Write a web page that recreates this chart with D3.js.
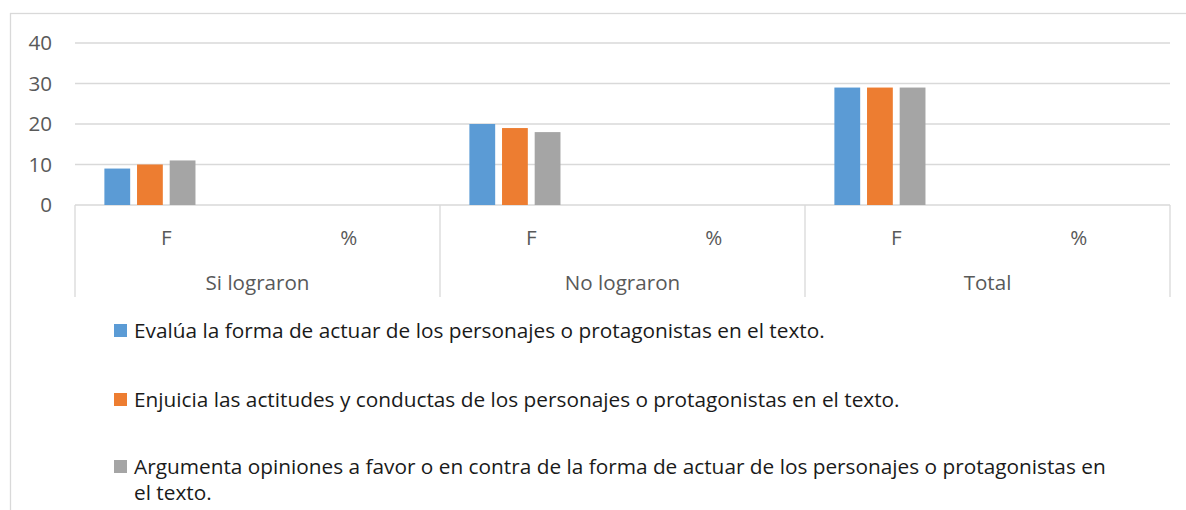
<!DOCTYPE html>
<html>
<head>
<meta charset="utf-8">
<script src="https://cdn.jsdelivr.net/npm/d3@7"></script>
<style>
  body { margin: 0; background: #fff; }
  svg text { font-family: "Open Sans", "Noto Sans", sans-serif; }
</style>
</head>
<body>
<svg id="chart" width="1186" height="510"></svg>
<script>
// Data
const groups = ['Si lograron', 'No lograron', 'Total'];
const subcats = ['F', '%'];
const series = [
    'Evalúa la forma de actuar de los personajes o protagonistas en el texto.',
    'Enjuicia las actitudes y conductas de los personajes o protagonistas en el texto.',
    'Argumenta opiniones a favor o en contra de la forma de actuar de los personajes o protagonistas en el texto.'
];
const colors = ['#5b9bd5', '#ed7d31', '#a5a5a5'];
// values per series, ordered [Si F, Si %, No F, No %, Total F, Total %]
const evalua    = [9, 0, 20, 0, 29, 0];
const enjuicia  = [10, 0, 19, 0, 29, 0];
const argumenta = [11, 0, 18, 0, 29, 0];
const yTicks = [0, 10, 20, 30, 40];

const values = [evalua, enjuicia, argumenta];

const svg = d3.select('#chart');
const fontSize = '20.6px';

// chart frame
svg.append('rect')
    .attr('x', 10.5).attr('y', 13.5)
    .attr('width', 1200).attr('height', 520)
    .attr('fill', 'none').attr('stroke', '#d9d9d9').attr('stroke-width', 1.3);

const plot = { left: 75, right: 1170, top: 43, bottom: 205 };

// one slot per (group, subcategory)
const cells = [];
groups.forEach(g => subcats.forEach(s => cells.push({ group: g, sub: s, key: g + '|' + s })));

const x0 = d3.scaleBand()
    .domain(cells.map(d => d.key))
    .range([plot.left, plot.right]);

const xg = d3.scaleBand()
    .domain(groups)
    .range([plot.left, plot.right]);

// four slots (the last one is an empty series in the source workbook)
const x1 = d3.scaleBand()
    .domain([0, 1, 2, 3])
    .range([0, x0.bandwidth()])
    .paddingInner(0.21)
    .paddingOuter(0.9);

const y = d3.scaleLinear()
    .domain([0, 40])
    .range([plot.bottom, plot.top]);

// gridlines
svg.append('g')
    .selectAll('line')
    .data(yTicks)
    .join('line')
    .attr('x1', plot.left).attr('x2', plot.right)
    .attr('y1', d => y(d)).attr('y2', d => y(d))
    .attr('stroke', '#d9d9d9').attr('stroke-width', 1.3);

// y labels
svg.append('g')
    .selectAll('text')
    .data(yTicks)
    .join('text')
    .attr('x', 52)
    .attr('y', d => y(d))
    .attr('dy', '0.36em')
    .attr('text-anchor', 'end')
    .attr('fill', '#595959')
    .style('font-size', fontSize)
    .text(d => d);

// bars
cells.forEach((c, i) => {
    svg.append('g')
        .attr('transform', `translate(${x0(c.key)},0)`)
        .selectAll('rect')
        .data(values.map((v, si) => ({ si, v: v[i] })).filter(d => d.v > 0))
        .join('rect')
        .attr('x', d => x1(d.si))
        .attr('width', x1.bandwidth())
        .attr('y', d => y(d.v))
        .attr('height', d => y(0) - y(d.v))
        .attr('fill', d => colors[d.si]);
});

// category axis: group boundaries
const bounds = groups.map(g => xg(g)).concat([plot.right]);
svg.append('g')
    .selectAll('line')
    .data(bounds)
    .join('line')
    .attr('x1', d => d).attr('x2', d => d)
    .attr('y1', plot.bottom).attr('y2', 297)
    .attr('stroke', '#d9d9d9').attr('stroke-width', 1.3);

// subcategory labels
svg.append('g')
    .selectAll('text')
    .data(cells)
    .join('text')
    .attr('x', d => x0(d.key) + x0.bandwidth() / 2)
    .attr('y', 245)
    .attr('text-anchor', 'middle')
    .attr('fill', '#595959')
    .style('font-size', fontSize)
    .text(d => d.sub);

// group labels
svg.append('g')
    .selectAll('text')
    .data(groups)
    .join('text')
    .attr('x', d => xg(d) + xg.bandwidth() / 2)
    .attr('y', 290)
    .attr('text-anchor', 'middle')
    .attr('fill', '#595959')
    .style('font-size', fontSize)
    .text(d => d);

// legend
const legendTop = [338, 407, 474];
const maxWidth = 985;
const legend = svg.append('g');
series.forEach((name, i) => {
    const item = legend.append('g');
    item.append('rect')
        .attr('x', 114).attr('y', legendTop[i] - 14)
        .attr('width', 13).attr('height', 13)
        .attr('fill', colors[i]);
    const text = item.append('text')
        .attr('x', 134).attr('y', legendTop[i])
        .attr('fill', '#1a1a1a')
        .style('font-size', '20.8px');
    // wrap words
    const words = name.split(' ');
    let line = [];
    let tspan = text.append('tspan').attr('x', 134).attr('dy', 0);
    words.forEach(w => {
        line.push(w);
        tspan.text(line.join(' '));
        if (tspan.node().getComputedTextLength() > maxWidth && line.length > 1) {
            line.pop();
            tspan.text(line.join(' '));
            line = [w];
            tspan = text.append('tspan').attr('x', 134).attr('dy', 26).text(w);
        }
    });
});
</script>
</body>
</html>
